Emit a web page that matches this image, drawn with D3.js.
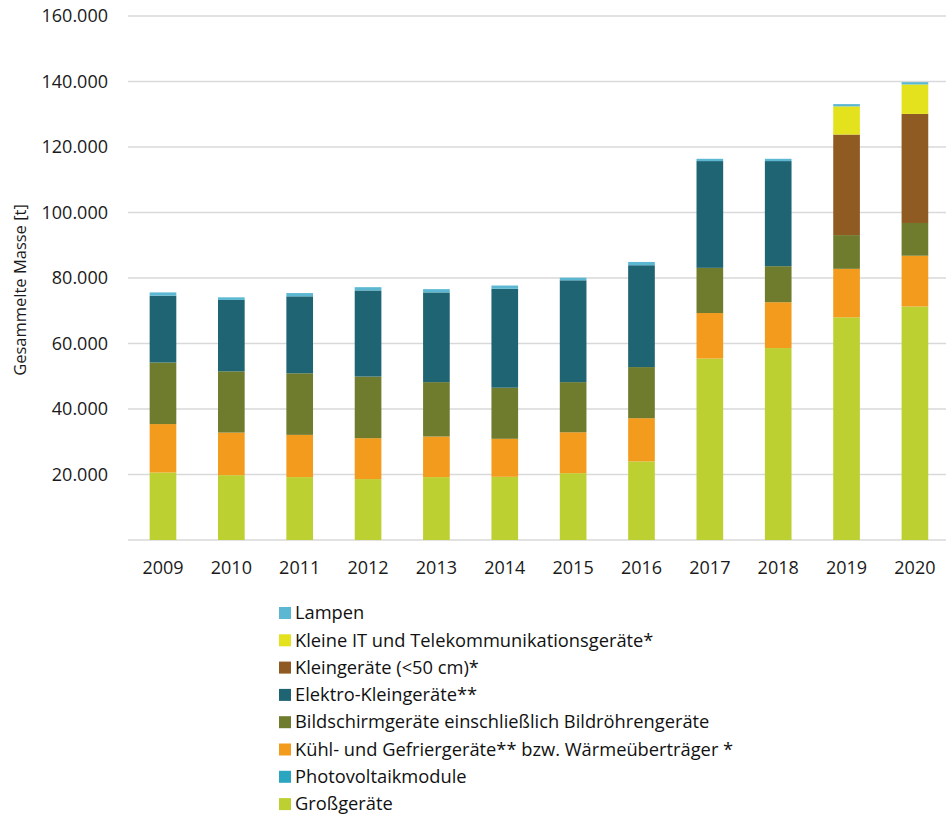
<!DOCTYPE html>
<html>
<head>
<meta charset="utf-8">
<script src="https://cdn.jsdelivr.net/npm/d3@7/dist/d3.min.js"></script>
<style>
  html, body { margin: 0; padding: 0; background: #ffffff; }
  svg { display: block; font-family: "Open Sans", "Noto Sans", sans-serif; }
</style>
</head>
<body>
<svg id="chart" width="946" height="818"></svg>
<script>
const years = ["2009","2010","2011","2012","2013","2014","2015","2016","2017","2018","2019","2020"];

// Series values (tonnes), stacked bottom to top
const grossgeraete      = [20600, 19800, 19200, 18600, 19200, 19300, 20400, 24000, 55400, 58600, 68000, 71300];
const photovoltaik      = [0, 0, 0, 0, 0, 0, 0, 0, 0, 0, 0, 0];
const kuehlgeraete      = [14800, 13000, 12900, 12500, 12400, 11600, 12500, 13200, 13900, 14000, 14800, 15500];
const bildschirmgeraete = [18800, 18700, 18800, 18800, 16600, 15600, 15300, 15600, 13800, 11000, 10300, 10000];
const elektroKlein      = [20400, 21800, 23500, 26300, 27400, 30200, 31100, 31100, 32600, 32100, 0, 0];
const kleingeraete      = [0, 0, 0, 0, 0, 0, 0, 0, 0, 0, 30700, 33300];
const kleineIT          = [0, 0, 0, 0, 0, 0, 0, 0, 0, 0, 8600, 9000];
const lampen            = [1000, 800, 1000, 1000, 1000, 1000, 800, 1000, 700, 700, 700, 700];

const yTicks = [0, 20000, 40000, 60000, 80000, 100000, 120000, 140000, 160000];

const seriesNames = [
  "Großgeräte",
  "Photovoltaikmodule",
  "Kühl- und Gefriergeräte** bzw. Wärmeüberträger *",
  "Bildschirmgeräte einschließlich Bildröhrengeräte",
  "Elektro-Kleingeräte**",
  "Kleingeräte (<50 cm)*",
  "Kleine IT und Telekommunikationsgeräte*",
  "Lampen"
];
const seriesValues = [grossgeraete, photovoltaik, kuehlgeraete, bildschirmgeraete, elektroKlein, kleingeraete, kleineIT, lampen];
const seriesColors = ["#bdd031", "#2ba6c1", "#f29b1d", "#6f7b2d", "#1f6472", "#8f5b22", "#e3e21c", "#5cb8d2"];

const svg = d3.select("#chart");

const x = d3.scaleBand().domain(years).range([128.8, 949.1]).paddingInner(0.61).paddingOuter(0.305);
const y = d3.scaleLinear().domain([0, 160000]).range([540, 16]);

// Build table for stack
const table = years.map((yr, i) => {
  const row = { year: yr };
  seriesNames.forEach((n, k) => { row[n] = seriesValues[k][i]; });
  return row;
});
const stack = d3.stack().keys(seriesNames)(table);

// Gridlines
svg.append("g")
  .selectAll("line")
  .data(yTicks)
  .join("line")
  .attr("x1", 128).attr("x2", 946)
  .attr("y1", d => y(d)).attr("y2", d => y(d))
  .attr("stroke", "#d9d9d9").attr("stroke-width", 1.3);

// Y axis labels
const fmt = v => d3.format(",")(v).replace(/,/g, ".");
svg.append("g")
  .selectAll("text")
  .data(yTicks.filter(d => d > 0))
  .join("text")
  .attr("x", 108)
  .attr("y", d => y(d))
  .attr("dy", "0.36em")
  .attr("text-anchor", "end")
  .attr("font-size", 18)
  .attr("fill", "#1a1a1a")
  .text(fmt);

// Y axis title
svg.append("text")
  .attr("transform", "translate(26,290) rotate(-90)")
  .attr("text-anchor", "middle")
  .attr("font-size", 16.5)
  .attr("fill", "#1a1a1a")
  .text("Gesammelte Masse [t]");

// Bars
svg.append("g")
  .selectAll("g")
  .data(stack)
  .join("g")
  .attr("fill", (d, i) => seriesColors[i])
  .selectAll("rect")
  .data(d => d)
  .join("rect")
  .attr("x", d => x(d.data.year))
  .attr("width", x.bandwidth())
  .attr("y", d => y(d[1]))
  .attr("height", d => Math.max(0, y(d[0]) - y(d[1])));

// X labels
svg.append("g")
  .selectAll("text")
  .data(years)
  .join("text")
  .attr("x", d => x(d) + x.bandwidth() / 2)
  .attr("y", 568)
  .attr("dy", "0.36em")
  .attr("text-anchor", "middle")
  .attr("font-size", 18)
  .attr("fill", "#1a1a1a")
  .text(d => d);

// Legend (reverse order: Lampen at top)
const legendItems = seriesNames.map((n, i) => ({ name: n, color: seriesColors[i] })).reverse();
const lg = svg.append("g");
const row = lg.selectAll("g")
  .data(legendItems)
  .join("g")
  .attr("transform", (d, i) => `translate(279, ${613 + i * 27.3})`);
row.append("rect")
  .attr("x", 0).attr("y", -6)
  .attr("width", 12).attr("height", 12)
  .attr("fill", d => d.color);
row.append("text")
  .attr("x", 16)
  .attr("y", 0)
  .attr("dy", "0.34em")
  .attr("font-size", 18.3)
  .attr("fill", "#111")
  .text(d => d.name);
</script>
</body>
</html>
